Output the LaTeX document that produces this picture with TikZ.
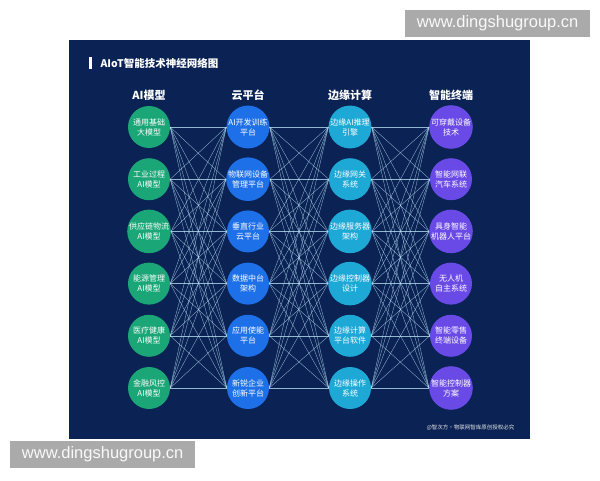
\documentclass[tikz,border=0pt]{standalone}
\usepackage{fontspec}
\setmainfont{Liberation Sans}
\newfontfamily\cjk{Noto Sans CJK SC}
\definecolor{panelblue}{RGB}{10,34,84}
\definecolor{aigreen}{RGB}{26,166,118}
\definecolor{cloudblue}{RGB}{30,112,232}
\definecolor{edgecyan}{RGB}{30,168,214}
\definecolor{termpurple}{RGB}{106,74,230}
\definecolor{wmgray}{RGB}{170,170,170}
\tikzset{
  bubble/.style={circle,minimum size=42pt,inner sep=0pt,text=white,align=center,
    font=\cjk\fontsize{8}{10}\selectfont},
  head/.style={text=white,font=\cjk\bfseries\fontsize{11}{13}\selectfont},
  link/.style={white!75!cyan,opacity=0.75,line width=0.35pt},
  wmark/.style={fill=wmgray,text=white!95!gray,minimum width=185pt,minimum height=27pt,
    inner sep=0pt,anchor=north west,font=\fontsize{16.5}{18}\selectfont}
}
\begin{document}
\begin{tikzpicture}[x=1pt,y=-1pt]
  \useasboundingbox (0,0) rectangle (600,480);
  \fill[panelblue] (69,40) rectangle (530,439);

  \fill[white] (89,57) rectangle (92,69);
  \node[head,anchor=west,font=\cjk\bfseries\fontsize{10.5}{12}\selectfont] (title) at (97,63) {AIoT智能技术神经网络图};

  \node[head] (ha) at (149,95) {AI模型};
  \node[head] (hb) at (248,95) {云平台};
  \node[head] (hc) at (350,95) {边缘计算};
  \node[head] (hd) at (451,95) {智能终端};

  \foreach \txt [count=\i] in {{通用基础\\大模型},{工业过程\\AI模型},{供应链物流\\AI模型},
      {能源管理\\AI模型},{医疗健康\\AI模型},{金融风控\\AI模型}}
    \node[bubble,fill=aigreen] (a\i) at (149,{127+52.2*(\i-1)}) {\txt};
  \foreach \txt [count=\i] in {{AI开发训练\\平台},{物联网设备\\管理平台},{垂直行业\\云平台},
      {数据中台\\架构},{应用使能\\平台},{新锐企业\\创新平台}}
    \node[bubble,fill=cloudblue] (b\i) at (248,{127+52.2*(\i-1)}) {\txt};
  \foreach \txt [count=\i] in {{边缘AI推理\\引擎},{边缘网关\\系统},{边缘服务器\\架构},
      {边缘控制器\\设计},{边缘计算\\平台软件},{边缘操作\\系统}}
    \node[bubble,fill=edgecyan] (c\i) at (350,{127+52.2*(\i-1)}) {\txt};
  \foreach \txt [count=\i] in {{可穿戴设备\\技术},{智能网联\\汽车系统},{具身智能\\机器人平台},
      {无人机\\自主系统},{智能零售\\终端设备},{智能控制器\\方案}}
    \node[bubble,fill=termpurple] (d\i) at (451,{127+52.2*(\i-1)}) {\txt};

  \foreach \i in {1,...,6}
    \foreach \j in {1,...,6} {
      \draw[link] (a\i.east) -- (b\j.west);
      \draw[link] (b\i.east) -- (c\j.west);
      \draw[link] (c\i.east) -- (d\j.west);
    }

  \node[anchor=east,text=white!80!gray,font=\cjk\fontsize{5.5}{6}\selectfont] (credit) at (518,428) {@智次方·物联网智库原创授权必究};

  \node[wmark] (wmtop) at (405,10) {www.dingshugroup.cn};
  \node[wmark] (wmbottom) at (10,441) {www.dingshugroup.cn};
\end{tikzpicture}
\end{document}
